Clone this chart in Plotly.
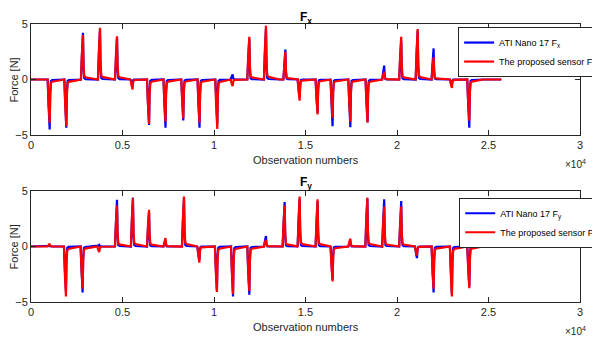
import plotly.graph_objects as go

# ---------------- data ----------------
x_tick_vals = [0, 5000, 10000, 15000, 20000, 25000, 30000]
x_tick_text = ["0", "0.5", "1", "1.5", "2", "2.5", "3"]
y_tick_vals = [-5, 0, 5]
n_samples = 25700

# Fx events: positions (observation number) and peak values
fx_pos = [1020, 1930, 2840, 3770, 4700, 5550, 6450, 7350, 8320, 9210, 10180, 11020,
          11930, 12840, 13900, 14680, 15660, 16480, 17450, 18390, 19300, 20230,
          21130, 22000, 23000, 23950]
fx_ati = [-4.5, -4.35, 4.2, 4.5, 3.8, -0.3, -4.1, -4.35, -3.7, -4.35, -4.0, 0.45,
          3.7, 4.6, 2.7, -1.6, -3.0, -4.2, -4.3, -3.8, 1.25, 3.5, 4.4, 2.8, -0.5, -4.35]
fx_prop = [-3.9, -4.2, 4.0, 4.65, 3.9, -0.9, -4.0, -3.8, -3.5, -3.9, -4.45, -0.6,
           3.85, 4.85, 2.5, -1.9, -3.15, -3.45, -3.8, -3.9, 0.7, 3.85, 4.55, 2.0, -0.75, -3.7]

# Fy events
fy_pos = [1020, 1910, 2820, 3730, 4700, 5570, 6450, 7350, 8360, 9200, 10160, 11040,
          11930, 12840, 13860, 14680, 15660, 16480, 17450, 18380, 19300, 20230,
          21090, 22000, 23000, 23950]
fy_ati = [0.1, -4.0, -4.15, 0.15, 4.2, 4.4, 3.1, 0.5, 4.4, -1.2, -4.0, -4.5,
          -4.35, 0.95, 4.0, 4.3, 4.1, -3.0, 0.5, 4.3, 4.25, 4.1, -1.05, -4.15, -4.3, -3.6]
fy_prop = [0.25, -4.5, -3.8, -0.5, 3.7, 4.35, 3.3, 0.75, 4.5, -1.45, -4.1, -4.3,
           -4.0, 0.6, 3.7, 4.5, 4.25, -3.15, 0.7, 4.4, 3.6, 3.6, -0.8, -3.8, -4.5, -3.75]

# ---------------- waveform building (spike template) ----------------
shape_dx = [-110, -60, -25, 0, 30, 70, 140, 400, 750]
shape_red = [0.0, 0.55, 0.9, 1.0, 0.35, 0.08, 0.05, 0.03, 0.0]
shape_blue = [0.0, 0.5, 0.85, 1.0, 0.25, 0.03, 0.01, 0.0, 0.0]


def build(pos, peaks, shape):
    xs, ys = [0], [0.0]
    for p, a in zip(pos, peaks):
        for dx, f in zip(shape_dx, shape):
            xs.append(p + dx)
            ys.append(a * f)
    xs.append(n_samples)
    ys.append(0.0)
    return xs, ys


BLUE = "#0000ff"
RED = "#ff0000"
AX = "#262626"
FONT = "Liberation Sans, Arial, sans-serif"

fig = go.Figure()

bx, by = build(fx_pos, fx_ati, shape_blue)
rx, ry = build(fx_pos, fx_prop, shape_red)
fig.add_trace(go.Scatter(x=bx, y=by, mode="lines", line=dict(color=BLUE, width=2.2),
                         name="ATI Nano 17 F<sub>x</sub>", xaxis="x", yaxis="y", legend="legend"))
fig.add_trace(go.Scatter(x=rx, y=ry, mode="lines", line=dict(color=RED, width=2.2),
                         name="The proposed sensor F<sub>x</sub>", xaxis="x", yaxis="y", legend="legend"))

bx2, by2 = build(fy_pos, fy_ati, shape_blue)
rx2, ry2 = build(fy_pos, fy_prop, shape_red)
fig.add_trace(go.Scatter(x=bx2, y=by2, mode="lines", line=dict(color=BLUE, width=2.2),
                         name="ATI Nano 17 F<sub>y</sub>", xaxis="x2", yaxis="y2", legend="legend2"))
fig.add_trace(go.Scatter(x=rx2, y=ry2, mode="lines", line=dict(color=RED, width=2.2),
                         name="The proposed sensor F<sub>y</sub>", xaxis="x2", yaxis="y2", legend="legend2"))

common_x = dict(range=[0, 30000], tickvals=x_tick_vals, ticktext=x_tick_text,
                ticks="inside", ticklen=5, tickcolor=AX, showline=True, linecolor=AX,
                linewidth=1, mirror="ticks", showgrid=False, zeroline=False, automargin=False,
                tickfont=dict(size=11, color=AX, family=FONT))
common_y = dict(range=[-5, 5], tickvals=y_tick_vals, ticks="inside", ticklen=5,
                tickcolor=AX, showline=True, linecolor=AX, linewidth=1, mirror="ticks",
                showgrid=False, zeroline=False, automargin=False,
                tickfont=dict(size=11, color=AX, family=FONT))

leg_common = dict(bgcolor="white", bordercolor=AX, borderwidth=1,
                  font=dict(size=9, color="black", family=FONT),
                  xanchor="left", yanchor="top", tracegroupgap=0, itemwidth=30)

# the page body adds an 8px offset, so margins are set 8px smaller on the left/top
fig.update_layout(
    width=600, height=340,
    margin=dict(l=23, r=28, t=16, b=46, autoexpand=False),
    paper_bgcolor="white", plot_bgcolor="white",
    font=dict(family=FONT, color=AX),
    xaxis=dict(domain=[0, 1], anchor="y", **common_x),
    yaxis=dict(domain=[0.6007, 1], anchor="x", **common_y),
    xaxis2=dict(domain=[0, 1], anchor="y2", **common_x),
    yaxis2=dict(domain=[0, 0.3993], anchor="x2", **common_y),
    legend=dict(x=0.778, y=0.989, **leg_common),
    legend2=dict(x=0.780, y=0.375, **leg_common),
    annotations=[
        dict(text="<b>F<sub>x</sub></b>", x=0.5, y=1.0576, xref="paper", yref="paper",
             xanchor="center", yanchor="top", showarrow=False, font=dict(size=12, color="black")),
        dict(text="<b>F<sub>y</sub></b>", x=0.5, y=0.4645, xref="paper", yref="paper",
             xanchor="center", yanchor="top", showarrow=False, font=dict(size=12, color="black")),
        dict(text="Observation numbers", x=0.5, y=0.5108, xref="paper", yref="paper",
             xanchor="center", yanchor="middle", showarrow=False, font=dict(size=11, color=AX)),
        dict(text="Observation numbers", x=0.5, y=-0.0899, xref="paper", yref="paper",
             xanchor="center", yanchor="middle", showarrow=False, font=dict(size=11, color=AX)),
        dict(text="×10<sup>4</sup>", x=0.991, y=0.496, xref="paper", yref="paper",
             xanchor="center", yanchor="middle", showarrow=False, font=dict(size=10, color=AX)),
        dict(text="×10<sup>4</sup>", x=0.991, y=-0.104, xref="paper", yref="paper",
             xanchor="center", yanchor="middle", showarrow=False, font=dict(size=10, color=AX)),
        dict(text="Force [N]", x=-0.031, y=0.80, xref="paper", yref="paper", textangle=-90,
             xanchor="center", yanchor="middle", showarrow=False, font=dict(size=11, color=AX)),
        dict(text="Force [N]", x=-0.031, y=0.20, xref="paper", yref="paper", textangle=-90,
             xanchor="center", yanchor="middle", showarrow=False, font=dict(size=11, color=AX)),
    ],
)

fig.write_html("out.html")
